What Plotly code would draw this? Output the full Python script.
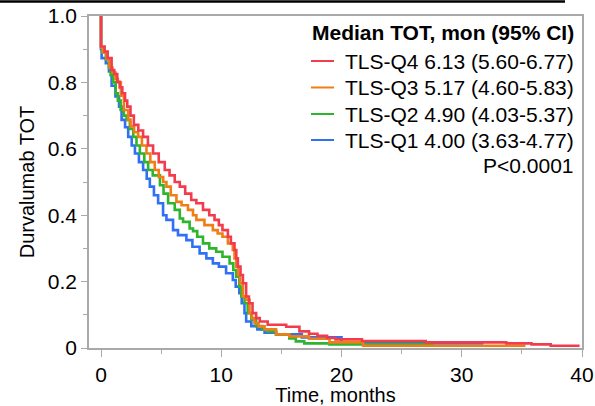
import plotly.graph_objects as go

# ---------------- data ----------------
q4_t = [0, 0, 0.3, 0.55, 0.88, 1.1, 1.35, 1.55, 1.77, 2.0, 2.18, 2.45, 2.73, 3.1, 3.5, 3.9,
        4.33, 4.8, 5.3, 5.7, 6.13, 6.55, 7.0, 7.5, 7.93, 8.48, 9.0, 9.44, 9.8, 10.1, 10.55,
        10.8, 11.1, 11.25, 11.38, 11.6, 11.8, 12.07, 12.3, 12.6, 12.9, 13.2, 13.86, 15.4,
        16.5, 17.3, 18.0, 18.8, 19.5, 21.7, 27.0, 33.7, 35.8, 37.4, 39.8]
q4_s = [1.0, 0.908, 0.893, 0.873, 0.837, 0.825, 0.802, 0.785, 0.767, 0.745, 0.727, 0.70,
        0.672, 0.655, 0.636, 0.61, 0.586, 0.56, 0.536, 0.52, 0.50, 0.486, 0.465, 0.446,
        0.436, 0.416, 0.40, 0.386, 0.37, 0.355, 0.335, 0.315, 0.295, 0.27, 0.245, 0.22,
        0.195, 0.155, 0.135, 0.105, 0.09, 0.08, 0.07, 0.064, 0.05, 0.043, 0.037, 0.030,
        0.026, 0.021, 0.017, 0.014, 0.011, 0.007, 0.007]

q3_t = [0, 0, 0.15, 0.45, 0.7, 0.95, 1.2, 1.4, 1.65, 1.9, 2.26, 2.46, 2.75, 3.09, 3.4, 3.78,
        4.1, 4.47, 4.8, 5.17, 5.44, 5.8, 6.27, 6.7, 7.23, 7.65, 7.93, 8.6, 9.3, 9.7, 10.1,
        10.55, 10.96, 11.1, 11.24, 11.4, 11.57, 11.8, 12.07, 12.35, 12.55, 12.76, 13.1,
        13.6, 14.56, 15.66, 17.3, 19.0, 21.8, 35.3]
q3_s = [1.0, 0.905, 0.89, 0.87, 0.845, 0.83, 0.81, 0.80, 0.76, 0.717, 0.687, 0.667, 0.65,
        0.636, 0.61, 0.586, 0.56, 0.536, 0.515, 0.50, 0.486, 0.46, 0.44, 0.43, 0.416, 0.40,
        0.386, 0.37, 0.355, 0.345, 0.335, 0.315, 0.295, 0.27, 0.245, 0.22, 0.195, 0.155,
        0.145, 0.105, 0.09, 0.075, 0.065, 0.056, 0.041, 0.035, 0.028, 0.017, 0.007, 0.007]

q2_t = [0, 0, 0.1, 0.4, 0.65, 0.8, 1.0, 1.22, 1.4, 1.63, 1.9, 2.13, 2.4, 2.68, 2.95, 3.23,
        3.6, 3.92, 4.3, 4.9, 5.2, 5.58, 6.13, 6.55, 6.82, 7.37, 7.65, 8.0, 8.48, 9.0, 9.58,
        10.1, 10.69, 11.0, 11.24, 11.5, 11.66, 11.93, 12.2, 12.5, 12.9, 13.4, 13.86, 14.56,
        15.66, 16.2, 16.9, 19.0, 27.7]
q2_s = [1.0, 0.905, 0.89, 0.87, 0.845, 0.822, 0.80, 0.767, 0.745, 0.717, 0.70, 0.687, 0.66,
        0.636, 0.61, 0.586, 0.56, 0.536, 0.52, 0.49, 0.465, 0.436, 0.416, 0.39, 0.38, 0.36,
        0.352, 0.335, 0.315, 0.30, 0.29, 0.275, 0.255, 0.235, 0.215, 0.185, 0.155, 0.135,
        0.105, 0.085, 0.066, 0.056, 0.05, 0.041, 0.029, 0.02, 0.014, 0.011, 0.011]

q1_t = [0, 0, 0.05, 0.4, 0.66, 0.88, 1.2, 1.5, 1.71, 2.0, 2.26, 2.55, 2.82, 3.15, 3.5, 3.8,
        4.06, 4.4, 4.75, 5.16, 5.44, 5.99, 6.4, 7.1, 7.6, 8.2, 8.76, 9.3, 9.8, 10.4, 10.96,
        11.2, 11.5, 11.7, 11.93, 12.07, 12.5, 13.0, 13.6, 14.56, 16.7, 20.0, 24.0, 31.8]
q1_s = [1.0, 0.90, 0.873, 0.858, 0.833, 0.79, 0.758, 0.727, 0.687, 0.665, 0.636, 0.61, 0.586,
        0.56, 0.536, 0.51, 0.486, 0.46, 0.436, 0.40, 0.386, 0.355, 0.34, 0.325, 0.305, 0.285,
        0.27, 0.255, 0.245, 0.225, 0.205, 0.185, 0.165, 0.135, 0.105, 0.08, 0.066, 0.056,
        0.046, 0.041, 0.032, 0.017, 0.014, 0.014]

group_names = ["TLS-Q4", "TLS-Q3", "TLS-Q2", "TLS-Q1"]
medians = ["6.13", "5.17", "4.90", "4.00"]
ci_low = ["5.60", "4.60", "4.03", "3.63"]
ci_high = ["6.77", "5.83", "5.37", "4.77"]
colors = ["#F23C4D", "#F07E16", "#2DB52D", "#3070F5"]

x_ticks = [0, 10, 20, 30, 40]
y_ticks = [0, 0.2, 0.4, 0.6, 0.8, 1.0]
y_ticktext = ["0", "0.2", "0.4", "0.6", "0.8", "1.0"]

legend_title = "<b>Median TOT, mon (95% CI)</b>"
p_text = "P<0.0001"

# ---------------- figure ----------------
FONT = "Liberation Sans, Arial, Helvetica, sans-serif"
GRAY = "#a9a9a9"

series = [(q4_t, q4_s), (q3_t, q3_s), (q2_t, q2_s), (q1_t, q1_s)]

fig = go.Figure()
# draw Q1 first so Q4 ends up on top
for i in reversed(range(4)):
    t, s = series[i]
    fig.add_trace(go.Scatter(
        x=t, y=s, mode="lines", line=dict(color=colors[i], width=2.6, shape="hv"),
        name=group_names[i], showlegend=False, hoverinfo="skip"))

# custom legend (text right-aligned as in the reference)
W_PLOT = 493.0
H_PLOT = 332.0
def px_x(px):
    return (px - 89) / W_PLOT
def px_y(py):
    return (348 - py) / H_PLOT

anns = []
shapes = []
TEXT_RIGHT = 576
anns.append(dict(x=px_x(TEXT_RIGHT), y=px_y(32), xref="paper", yref="paper", text=legend_title,
                 showarrow=False, xanchor="right", yanchor="middle",
                 font=dict(family=FONT, size=21, color="black")))
item_y = [61, 87.5, 114, 140]
for i in range(4):
    txt = f"{group_names[i]} {medians[i]} ({ci_low[i]}-{ci_high[i]})"
    anns.append(dict(x=px_x(TEXT_RIGHT), y=px_y(item_y[i]), xref="paper", yref="paper", text=txt,
                     showarrow=False, xanchor="right", yanchor="middle",
                     font=dict(family=FONT, size=21, color="black")))
    shapes.append(dict(type="line", xref="paper", yref="paper",
                       x0=px_x(311), x1=px_x(334), y0=px_y(item_y[i]), y1=px_y(item_y[i]),
                       line=dict(color=colors[i], width=2)))
anns.append(dict(x=px_x(TEXT_RIGHT), y=px_y(166), xref="paper", yref="paper", text=p_text,
                 showarrow=False, xanchor="right", yanchor="middle",
                 font=dict(family=FONT, size=21, color="black")))

# black rule at the very top of the image
shapes.append(dict(type="line", xref="paper", yref="paper",
                   x0=px_x(0), x1=px_x(565), y0=px_y(1.5), y1=px_y(1.5),
                   line=dict(color="black", width=2.5)))

fig.update_layout(
    width=595, height=406,
    margin=dict(l=89, r=13, t=16, b=58, autoexpand=False),
    paper_bgcolor="white", plot_bgcolor="white",
    font=dict(family=FONT, size=21, color="black"),
    annotations=anns, shapes=shapes,
    showlegend=False,
)
fig.update_xaxes(
    range=[-1.0, 40], tickvals=x_ticks, ticks="outside", ticklen=7, tickwidth=1.3,
    tickcolor=GRAY, showline=True, linecolor=GRAY, linewidth=1.5, mirror=True,
    showgrid=False, zeroline=False, automargin=False,
    minor=dict(ticks="outside", ticklen=4, dtick=5, tick0=0, tickcolor=GRAY, tickwidth=1.3,
               showgrid=False),
    title=dict(text="Time, months", font=dict(size=20), standoff=4),
    tickfont=dict(size=21),
)
fig.update_yaxes(
    range=[0, 1.0], tickvals=y_ticks, ticktext=y_ticktext, ticks="outside", ticklen=6,
    tickwidth=1.3, tickcolor=GRAY, showline=True, linecolor=GRAY, linewidth=1.5,
    mirror=True, showgrid=False, zeroline=False, automargin=False,
    minor=dict(ticks="outside", ticklen=4, dtick=0.1, tick0=0, tickcolor=GRAY,
               tickwidth=1.3, showgrid=False),
    title=dict(text="Durvalumab TOT", font=dict(size=20), standoff=8),
    tickfont=dict(size=21),
)

fig.write_html("out.html", config={"displayModeBar": False},
               post_script="document.body.style.margin='0';")
